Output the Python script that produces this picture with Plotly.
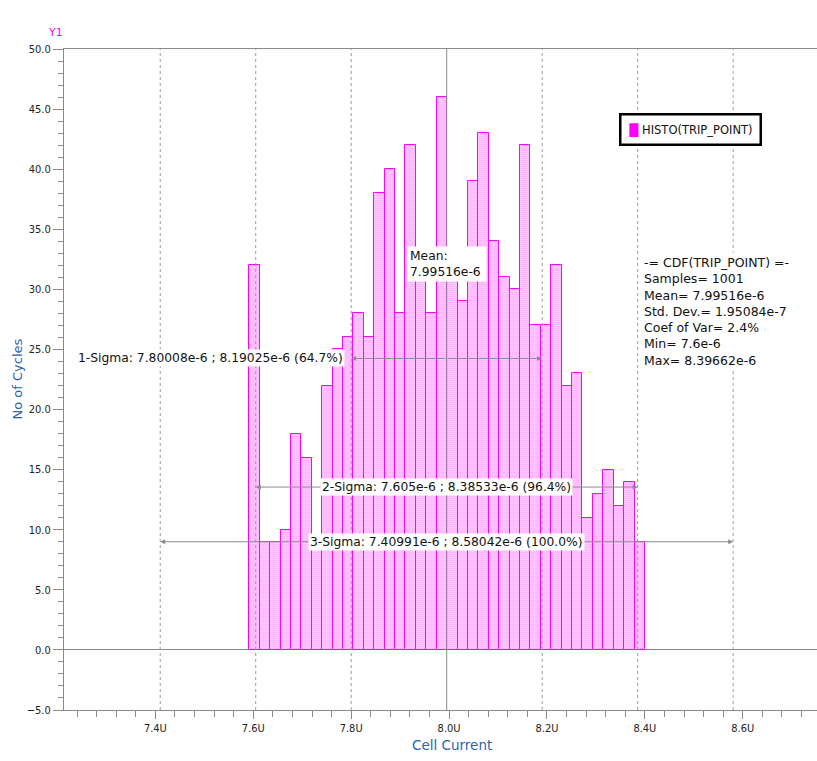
import plotly.graph_objects as go

# Histogram of TRIP_POINT (cell current, in uA)
counts = [32, 9, 9, 10, 18, 16, 9, 22, 25, 26, 28, 26, 38, 40, 28, 42, 32, 28, 46,
          31, 29, 39, 43, 34, 31, 30, 42, 27, 27, 32, 22, 23, 11, 13, 15, 12, 14, 9]
bin_lo = 7.5919
bin_w = 0.02127
centers = [bin_lo + (i + 0.5) * bin_w for i in range(len(counts))]

# Statistics
mean_val = 7.99516
mean_txt = "7.99516e-6"
sigma_lo = [7.80008, 7.605, 7.40991]
sigma_hi = [8.19025, 8.38533, 8.58042]
sigma_lo_txt = ["7.80008e-6", "7.605e-6", "7.40991e-6"]
sigma_hi_txt = ["8.19025e-6", "8.38533e-6", "8.58042e-6"]
sigma_pct = [64.7, 96.4, 100.0]
arrow_y = [24.25, 13.55, 9.0]
stats_lines = ["-= CDF(TRIP_POINT) =-", "Samples= 1001", "Mean= 7.99516e-6",
               "Std. Dev.= 1.95084e-7", "Coef of Var= 2.4%", "Min= 7.6e-6",
               "Max= 8.39662e-6"]

x_tick_vals = [7.4, 7.6, 7.8, 8.0, 8.2, 8.4, 8.6]
x_tick_text = ["7.4U", "7.6U", "7.8U", "8.0U", "8.2U", "8.4U", "8.6U"]
y_tick_vals = [-5, 0, 5, 10, 15, 20, 25, 30, 35, 40, 45, 50]

W, H = 817, 761
ML, MR, MT, MB = 64, 0, 49, 51
PW, PH = W - ML - MR, H - MT - MB


def px(x):
    return (x - ML) / PW


def py(y):
    return (H - MB - y) / PH


MAG = "#ff00ff"
GRAY = "#8a8a8a"
BLUE = "#2a64ad"
TXT = "DejaVu Sans"
TICKFONT = "DejaVu Sans Condensed, Liberation Sans Narrow, Liberation Sans"

fig = go.Figure()
fig.add_trace(go.Bar(
    x=centers, y=counts, width=bin_w,
    marker=dict(color="white", line=dict(color=MAG, width=1),
                pattern=dict(shape=".", fgcolor=MAG, bgcolor="white",
                             size=2, solidity=0.6)),
    showlegend=False, name="HISTO(TRIP_POINT)",
))

shapes = []
for lo, hi in zip(sigma_lo, sigma_hi):
    for v in (lo, hi):
        shapes.append(dict(type="line", xref="x", yref="paper", x0=v, x1=v, y0=0, y1=1,
                           line=dict(color="#9a9a9a", width=1, dash="3px,3px"), layer="above"))
shapes.append(dict(type="line", xref="x", yref="paper", x0=mean_val, x1=mean_val, y0=0, y1=1,
                   line=dict(color=GRAY, width=1), layer="above"))

ann = []
# double-headed sigma arrows, drawn from the mean outwards
for lo, hi, yv in zip(sigma_lo, sigma_hi, arrow_y):
    for v in (lo, hi):
        ann.append(dict(x=v, y=yv, ax=mean_val, ay=yv, xref="x", yref="y", axref="x", ayref="y",
                        text="", showarrow=True, arrowhead=2, arrowsize=1, arrowwidth=1,
                        arrowcolor=GRAY, standoff=0, startstandoff=0))

labels = [f"{k + 1}-Sigma: {a} ; {b} ({p:.1f}%)"
          for k, (a, b, p) in enumerate(zip(sigma_lo_txt, sigma_hi_txt, sigma_pct))]
ann.append(dict(x=sigma_lo[0], y=arrow_y[0], xref="x", yref="y", xanchor="right", yanchor="middle",
                xshift=-6, text=labels[0], showarrow=False, bgcolor="white", borderpad=1,
                font=dict(family=TXT, size=12.3, color="#111")))
for k in (1, 2):
    ann.append(dict(x=mean_val, y=arrow_y[k], xref="x", yref="y", xanchor="center", yanchor="middle",
                    text=labels[k], showarrow=False, bgcolor="white", borderpad=1,
                    font=dict(family=TXT, size=12.3, color="#111")))
ann.append(dict(x=mean_val, y=32.1, xref="x", yref="y", xanchor="center", yanchor="middle",
                text=f"Mean:<br>{mean_txt}", showarrow=False, bgcolor="white", align="left",
                width=74, borderpad=2, font=dict(family=TXT, size=12.3, color="#111")))

# statistics block
ann.append(dict(x=px(641), y=py(252), xref="paper", yref="paper", xanchor="left", yanchor="top",
                text="<br>".join(stats_lines), showarrow=False, bgcolor="white", align="left",
                borderpad=2, font=dict(family=TXT, size=12.5, color="#111")))

# legend box
ann.append(dict(x=px(690), y=py(129.5), xref="paper", yref="paper", xanchor="center", yanchor="middle",
                text=f"<span style='color:{MAG}'>█</span> HISTO(TRIP_POINT)", showarrow=False,
                bgcolor="white", bordercolor="black", borderwidth=2.5, borderpad=7,
                align="left", font=dict(family=TXT, size=11.5, color="#111")))

# axis captions
ann.append(dict(x=px(55), y=py(33), xref="paper", yref="paper", xanchor="center", yanchor="middle",
                text="Y1", showarrow=False, font=dict(family=TXT, size=11, color=MAG)))
ann.append(dict(x=px(452), y=py(745), xref="paper", yref="paper", xanchor="center", yanchor="middle",
                text="Cell Current", showarrow=False, font=dict(family=TXT, size=13.5, color=BLUE)))
ann.append(dict(x=px(17), y=0.5, xref="paper", yref="paper", xanchor="center", yanchor="middle",
                text="No of Cycles", textangle=-90, showarrow=False,
                font=dict(family=TXT, size=13, color=BLUE)))

fig.update_layout(
    width=W, height=H, margin=dict(l=ML, r=MR, t=MT, b=MB),
    paper_bgcolor="white", plot_bgcolor="white", bargap=0,
    shapes=shapes, annotations=ann, showlegend=False,
    xaxis=dict(range=[7.21334, 8.75165], showgrid=False, zeroline=False,
               showline=True, linecolor=GRAY, linewidth=1, mirror=True,
               tickmode="array", tickvals=x_tick_vals, ticktext=x_tick_text,
               ticks="outside", ticklen=8, tickcolor=GRAY,
               minor=dict(tick0=7.4, dtick=0.04, ticks="outside", ticklen=6, tickcolor=GRAY),
               tickfont=dict(family=TICKFONT, size=11, color="#222")),
    yaxis=dict(range=[-5, 50], showgrid=False, zeroline=True, zerolinecolor=GRAY, zerolinewidth=1,
               showline=True, linecolor=GRAY, linewidth=1,
               tickmode="array", tickvals=y_tick_vals, tickformat=".1f",
               ticks="outside", ticklen=10, tickcolor=GRAY,
               minor=dict(tick0=0, dtick=1, ticks="outside", ticklen=5, tickcolor=GRAY),
               tickfont=dict(family=TICKFONT, size=11, color="#222")),
)

fig.write_html("out.html")
